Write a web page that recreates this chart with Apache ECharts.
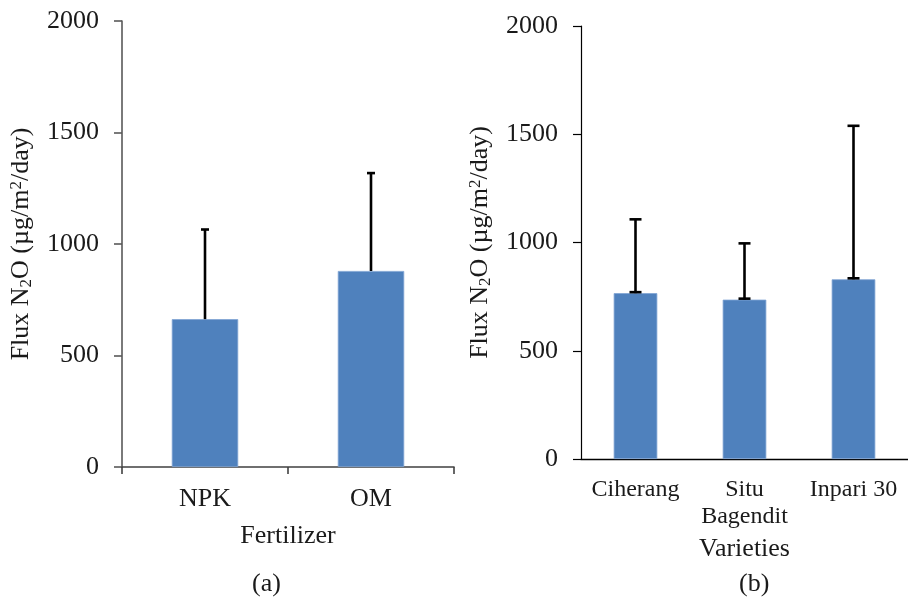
<!DOCTYPE html>
<html>
<head>
<meta charset="utf-8">
<script src="https://cdn.jsdelivr.net/npm/echarts@6/dist/echarts.min.js"></script>
<style>
html,body{margin:0;padding:0;background:#fff;}
#c{width:908px;height:600px;}
</style>
</head>
<body>
<div id="c"></div>
<script>
// Data
const fertCategories = ['NPK', 'OM'];
const fertMeans = [663, 879];
const fertErrors = [402, 439];

const varCategories = ['Ciherang', 'Situ\nBagendit', 'Inpari 30'];
const varMeans = [766, 736, 830];
const varErrors = [341, 260, 709];

const yTicks = [0, 500, 1000, 1500, 2000];

const FONT = "'Liberation Serif', 'Times New Roman', serif";
const TXT = '#1a1a1a';
const BAR = '#4F81BD';

const chart = echarts.init(document.getElementById('c'), null, {renderer: 'canvas'});

function yTitle() {
  return '{a|Flux N}{sub|2}{a|O (µg/m}{sup|2}{a|/day)}';
}
const richTitle = {
  a: {fontFamily: FONT, fontSize: 26, color: TXT, lineHeight: 27},
  sub: {fontFamily: FONT, fontSize: 17, color: TXT, lineHeight: 12, verticalAlign: 'bottom'},
  sup: {fontFamily: FONT, fontSize: 17, color: TXT, lineHeight: 12, verticalAlign: 'top'}
};

function errorRender(withBaseCap, capW) {
  return function (params, api) {
    const idx = api.value(0), m = api.value(1), e = api.value(2);
    const base = api.coord([idx, m]);
    const top = api.coord([idx, m + e]);
    const style = {stroke: '#000', lineWidth: 2.6};
    const children = [
      {type: 'line', shape: {x1: base[0], y1: base[1], x2: top[0], y2: top[1]}, style: style},
      {type: 'line', shape: {x1: top[0] - capW / 2, y1: top[1], x2: top[0] + capW / 2, y2: top[1]}, style: style}
    ];
    if (withBaseCap) {
      children.push({type: 'line', shape: {x1: base[0] - capW / 2, y1: base[1] - 1, x2: base[0] + capW / 2, y2: base[1] - 1}, style: style});
    }
    return {type: 'group', children: children};
  };
}

const yAxisCommon = {
  type: 'value',
  min: yTicks[0],
  max: yTicks[yTicks.length - 1],
  interval: yTicks[1] - yTicks[0],
  splitLine: {show: false},
  axisLabel: {fontFamily: FONT, fontSize: 26, color: TXT, margin: 23, formatter: v => String(v)},
  nameLocation: 'middle',
  nameRotate: 90,
  name: yTitle(),
  nameTextStyle: {rich: richTitle}
};

chart.setOption({
  animation: false,
  backgroundColor: '#fff',
  grid: [
    {left: 122, top: 21, right: 454, bottom: 133, containLabel: false},
    {left: 581, top: 26, right: -10.5, bottom: 141, containLabel: false}
  ],
  xAxis: [
    {
      type: 'category', gridIndex: 0, data: fertCategories,
      axisLine: {lineStyle: {color: '#404040', width: 1.6}},
      axisTick: {show: true, length: 7, lineStyle: {color: '#404040', width: 1.6}},
      axisLabel: {fontFamily: FONT, fontSize: 26, color: TXT, margin: 19, lineHeight: 27},
      name: 'Fertilizer', nameLocation: 'middle', nameGap: 56,
      nameTextStyle: {fontFamily: FONT, fontSize: 26, color: TXT}
    },
    {
      type: 'category', gridIndex: 1, data: varCategories,
      axisLine: {lineStyle: {color: '#000', width: 1.4}},
      axisTick: {show: false},
      axisLabel: {fontFamily: FONT, fontSize: 24, color: TXT, margin: 17, lineHeight: 27, interval: 0},
      name: 'Varieties', nameLocation: 'middle', nameGap: 77,
      nameTextStyle: {fontFamily: FONT, fontSize: 26, color: TXT}
    }
  ],
  yAxis: [
    Object.assign({}, yAxisCommon, {
      gridIndex: 0, nameGap: 87,
      axisLine: {show: true, lineStyle: {color: '#595959', width: 1.6}},
      axisTick: {show: true, length: 8, lineStyle: {color: '#595959', width: 1.6}}
    }),
    Object.assign({}, yAxisCommon, {
      gridIndex: 1, nameGap: 87,
      axisLine: {show: true, lineStyle: {color: '#000', width: 1.2}},
      axisTick: {show: true, length: 8, lineStyle: {color: '#000', width: 1.2}}
    })
  ],
  series: [
    {
      type: 'bar', xAxisIndex: 0, yAxisIndex: 0, data: fertMeans, barWidth: '40%',
      itemStyle: {color: BAR, borderColor: '#7fa3d3', borderWidth: 0.8}, z: 2
    },
    {
      type: 'custom', xAxisIndex: 0, yAxisIndex: 0, z: 3,
      renderItem: errorRender(false, 8),
      data: fertMeans.map((m, i) => [i, m, fertErrors[i]]),
      encode: {x: 0, y: 1}
    },
    {
      type: 'bar', xAxisIndex: 1, yAxisIndex: 1, data: varMeans, barWidth: '40%',
      itemStyle: {color: BAR, borderColor: '#7fa3d3', borderWidth: 0.8}, z: 2
    },
    {
      type: 'custom', xAxisIndex: 1, yAxisIndex: 1, z: 3,
      renderItem: errorRender(true, 12),
      data: varMeans.map((m, i) => [i, m, varErrors[i]]),
      encode: {x: 0, y: 1}
    }
  ],
  graphic: [
    {type: 'text', left: 252, top: 571, style: {text: '(a)', font: '26px ' + FONT, fill: TXT}},
    {type: 'text', left: 739, top: 571, style: {text: '(b)', font: '26px ' + FONT, fill: TXT}}
  ]
});
</script>
</body>
</html>
